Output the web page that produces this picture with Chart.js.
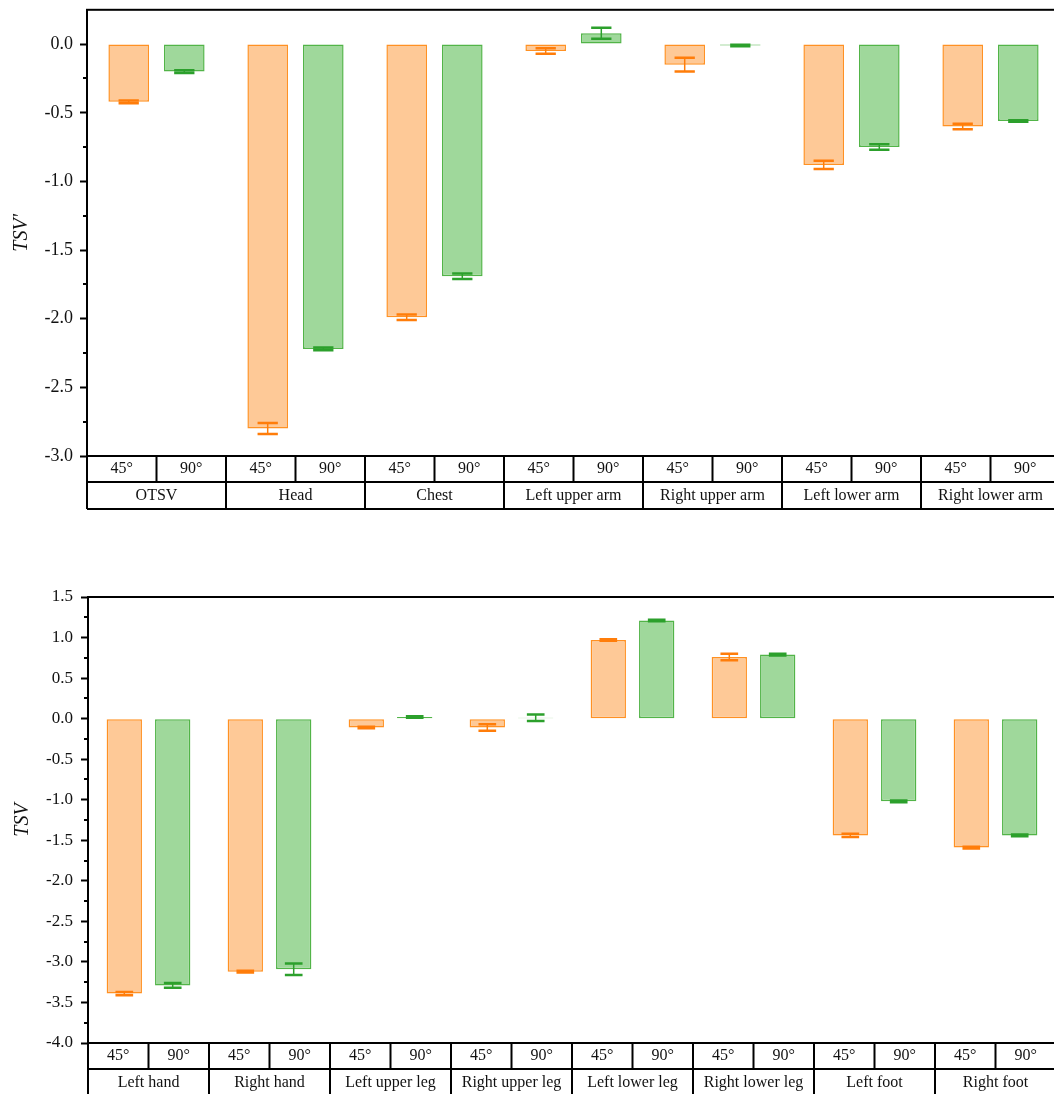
<!DOCTYPE html>
<html>
<head>
<meta charset="utf-8">
<script src="https://cdn.jsdelivr.net/npm/chart.js@4.4.0/dist/chart.umd.min.js"></script>
<style>
  html, body { margin: 0; padding: 0; background: #fff; overflow: hidden; }
  #wrap { position: relative; width: 1054px; height: 1094px; overflow: hidden; }
  canvas { position: absolute; left: 0; }
  #upper { top: -8px; }
  #lower { top: 560px; }
</style>
</head>
<body>
<div id="wrap">
  <canvas id="upper" width="1064" height="528"></canvas>
  <canvas id="lower" width="1064" height="560"></canvas>
</div>
<script>
const angles = ["45°", "90°"];

// overall and upper-body sensation votes
const upperParts = ["OTSV", "Head", "Chest", "Left upper arm", "Right upper arm", "Left lower arm", "Right lower arm"];
const upper45 = [-0.42, -2.80, -1.99, -0.05, -0.15, -0.88, -0.60];
const upper45Err = [0.01, 0.04, 0.02, 0.02, 0.05, 0.03, 0.02];
const upper90 = [-0.20, -2.22, -1.69, 0.08, -0.01, -0.75, -0.56];
const upper90Err = [0.01, 0.01, 0.02, 0.04, 0.005, 0.02, 0.005];

// hands and legs
const lowerParts = ["Left hand", "Right hand", "Left upper leg", "Right upper leg", "Left lower leg", "Right lower leg", "Left foot", "Right foot"];
const lower45 = [-3.39, -3.12, -0.11, -0.11, 0.97, 0.76, -1.44, -1.59];
const lower45Err = [0.02, 0.01, 0.01, 0.04, 0.01, 0.04, 0.02, 0.01];
const lower90 = [-3.29, -3.09, 0.02, 0.01, 1.21, 0.79, -1.02, -1.44];
const lower90Err = [0.03, 0.07, 0.01, 0.04, 0.01, 0.01, 0.01, 0.01];

const SERIF = '"Liberation Serif", "Times New Roman", serif';
Chart.defaults.font.family = SERIF;
Chart.defaults.color = '#111';

const orange = { fill: 'rgb(254,201,151)', line: 'rgb(255,145,35)', err: 'rgb(255,125,10)' };
const green = { fill: 'rgb(159,216,155)', line: 'rgb(82,180,72)', err: 'rgb(44,160,44)' };

// error bars: vertical whisker with caps, centred on each bar
const errorBars = {
  id: 'errorBars',
  afterDatasetsDraw(chart) {
    const { ctx } = chart;
    const y = chart.scales.y;
    ctx.save();
    chart.data.datasets.forEach((ds, di) => {
      const meta = chart.getDatasetMeta(di);
      ctx.strokeStyle = ds.errColor;
      meta.data.forEach((bar, i) => {
        const v = ds.data[i], e = ds.errors[i];
        const yHi = y.getPixelForValue(v + e);
        const yLo = y.getPixelForValue(v - e);
        const half = bar.width * 0.25;
        ctx.lineWidth = 1.5;
        ctx.beginPath();
        ctx.moveTo(bar.x, yHi); ctx.lineTo(bar.x, yLo);
        ctx.stroke();
        ctx.lineWidth = 2.5;
        ctx.beginPath();
        ctx.moveTo(bar.x - half, yHi); ctx.lineTo(bar.x + half, yHi);
        ctx.moveTo(bar.x - half, yLo); ctx.lineTo(bar.x + half, yLo);
        ctx.stroke();
      });
    });
    ctx.restore();
  }
};

// plot frame, minor y ticks and the two-row category table under the plot
const frameTable = {
  id: 'frameTable',
  afterDraw(chart) {
    const { ctx, chartArea: a, scales } = chart;
    const sub = scales.xSub, grp = scales.xGroup, y = scales.y;
    ctx.save();
    ctx.strokeStyle = '#000';
    ctx.lineWidth = 2;
    ctx.strokeRect(a.left, a.top, a.right - a.left, a.bottom - a.top);

    // minor ticks halfway between labelled ticks
    ctx.beginPath();
    for (let v = y.min + 0.25; v < y.max; v += 0.5) {
      const py = Math.round(y.getPixelForValue(v));
      ctx.moveTo(a.left - 4, py); ctx.lineTo(a.left, py);
    }
    ctx.stroke();

    const edges = (scale) => {
      const n = scale.ticks.length;
      const out = [];
      for (let i = 0; i <= n; i++) out.push(scale.left + (scale.right - scale.left) * i / n);
      return out;
    };
    ctx.beginPath();
    [sub.bottom, grp.bottom].forEach(py => {
      ctx.moveTo(a.left, py); ctx.lineTo(a.right, py);
    });
    edges(sub).forEach(px => { ctx.moveTo(px, sub.top); ctx.lineTo(px, sub.bottom); });
    edges(grp).forEach(px => { ctx.moveTo(px, grp.top); ctx.lineTo(px, grp.bottom); });
    ctx.stroke();
    ctx.restore();
  }
};

function makeChart(id, parts, v45, e45, v90, e90, o) {
  const subLabels = [];
  parts.forEach(() => subLabels.push(...angles));
  return new Chart(document.getElementById(id), {
    type: 'bar',
    data: {
      labels: parts,
      datasets: [
        { label: angles[0], data: v45, errors: e45, errColor: orange.err,
          backgroundColor: orange.fill, borderColor: orange.line },
        { label: angles[1], data: v90, errors: e90, errColor: green.err,
          backgroundColor: green.fill, borderColor: green.line }
      ]
    },
    options: {
      responsive: false,
      animation: false,
      layout: { padding: { top: o.padTop, bottom: o.padBottom, left: 0, right: o.padRight } },
      datasets: {
        bar: { categoryPercentage: 0.8, barPercentage: 0.73, borderWidth: 1.5, borderSkipped: false }
      },
      plugins: { legend: { display: false }, tooltip: { enabled: false } },
      scales: {
        x: { display: false, offset: true },
        xSub: {
          type: 'category', labels: subLabels, position: 'bottom', offset: true, weight: 1,
          grid: { display: false, drawTicks: false }, border: { display: false },
          ticks: { autoSkip: false, maxRotation: 0, padding: 3.4, font: { size: 16 }, color: '#111' },
          afterFit: s => { s.height = 26; }
        },
        xGroup: {
          type: 'category', labels: parts, position: 'bottom', offset: true, weight: 2,
          grid: { display: false, drawTicks: false }, border: { display: false },
          ticks: { autoSkip: false, maxRotation: 0, padding: 3.9, font: { size: 16 }, color: '#111' },
          afterFit: s => { s.height = 27; }
        },
        y: {
          min: o.min, max: o.max,
          afterFit: s => { s.width = o.axisWidth; },
          border: { display: false },
          grid: {
            drawOnChartArea: false, tickLength: 7, tickWidth: 2,
            tickColor: c => Math.abs(c.tick.value * 2 - Math.round(c.tick.value * 2)) < 1e-6 ? '#000' : 'rgba(0,0,0,0)'
          },
          ticks: {
            stepSize: 0.5, padding: o.tickPad, font: { size: o.tickFont }, color: '#111',
            callback: v => Math.abs(v * 2 - Math.round(v * 2)) < 1e-6 ? (Math.abs(v) < 1e-9 ? '0.0' : v.toFixed(1)) : ''
          },
          title: {
            display: true, text: o.title, color: '#111',
            font: { size: 20, style: 'italic' }, padding: { top: o.titlePad, bottom: 0 }
          }
        }
      }
    },
    plugins: [errorBars, frameTable]
  });
}

makeChart('upper', upperParts, upper45, upper45Err, upper90, upper90Err, {
  min: -3, max: 0.25, title: "TSV'", axisWidth: 87, tickPad: 7, tickFont: 18,
  titlePad: 10, padTop: 1, padBottom: 11, padRight: 4
});

makeChart('lower', lowerParts, lower45, lower45Err, lower90, lower90Err, {
  min: -4, max: 1.5, title: 'TSV', axisWidth: 88, tickPad: 8, tickFont: 17,
  titlePad: 11, padTop: 37, padBottom: 24, padRight: 8
});
</script>
</body>
</html>
